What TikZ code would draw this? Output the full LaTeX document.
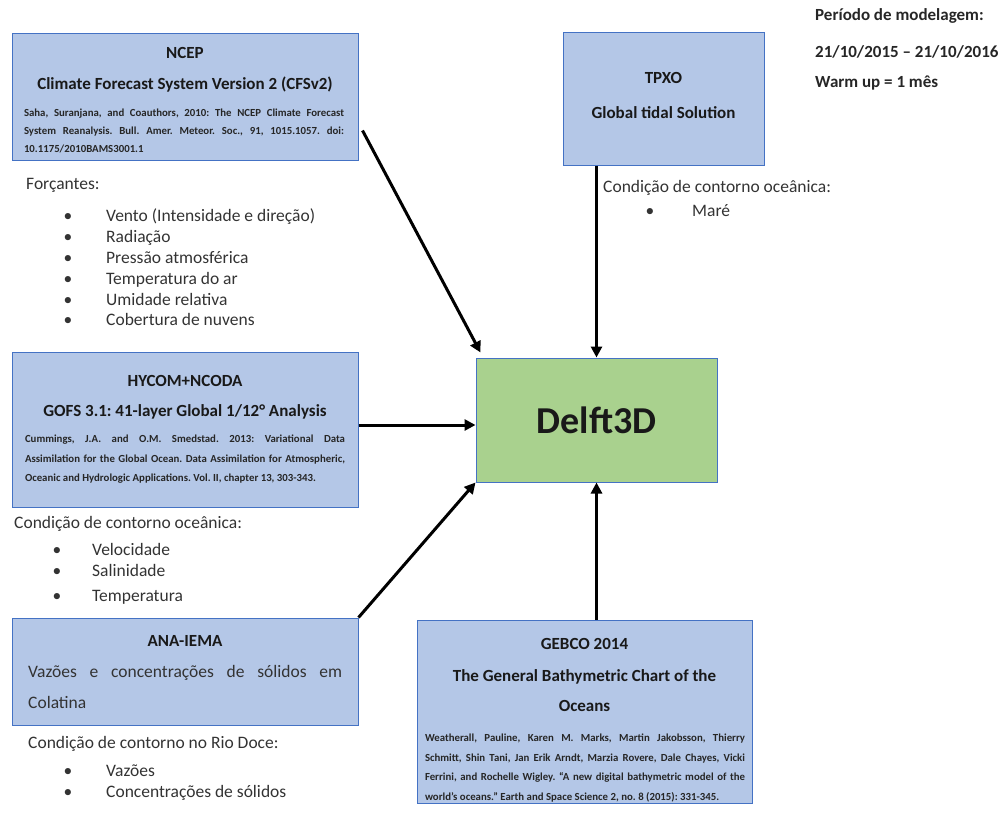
\documentclass[tikz,border=0pt]{standalone}
\usepackage{fontspec}
\setmainfont{Carlito}
\usetikzlibrary{arrows.meta,calc}
\definecolor{boxfill}{HTML}{B4C7E7}
\definecolor{boxedge}{HTML}{4472C4}
\definecolor{delfill}{HTML}{A9D18E}
\definecolor{txt}{HTML}{333333}
\frenchspacing
\tolerance=10000
\begin{document}
\begin{tikzpicture}[x=1pt,y=-1pt,
  box/.style={draw=boxedge, fill=boxfill, line width=1pt, inner sep=0pt},
  ttl/.style={font=\fontsize{17}{18}\selectfont\bfseries, text=black!90, inner sep=0pt, anchor=base},
  cite/.style={font=\fontsize{10.8}{#1}\selectfont\bfseries, text=black!85, inner sep=0pt, text width=320pt, align=justify, anchor=north},
  body/.style={font=\fontsize{17.5}{19}\selectfont, text=txt, inner sep=0pt, anchor=base west},
  bul/.style={font=\fontsize{17.5}{19}\selectfont, text=txt, inner sep=0pt, anchor=base},
  note/.style={font=\fontsize{17}{19}\selectfont\bfseries, text=black!85, inner sep=0pt, anchor=base west},
  arr/.style={-{Triangle[length=11pt,width=11pt]}, line width=3pt, black}]
\useasboundingbox (0,0) rectangle (1006,816);

% boxes
\node[box, minimum width=346pt, minimum height=126pt] (ncep) at (185,97) {};
\node[box, minimum width=201pt, minimum height=132pt] (tpxo) at (663.5,99) {};
\node[box, minimum width=346pt, minimum height=155pt] (hycom) at (185,429.5) {};
\node[box, minimum width=346pt, minimum height=107pt] (ana) at (185,671.5) {};
\node[box, minimum width=335pt, minimum height=183pt] (gebco) at (584.5,711.5) {};
\node[draw=boxedge, fill=delfill, line width=1pt, minimum width=241pt, minimum height=124pt, inner sep=0pt,
      font=\fontsize{38}{40}\selectfont\bfseries, text=black!90] (delft) at (596.5,420) {Delft3D};

% NCEP text
\node[ttl] (ncep1) at (185,59) {NCEP};
\node[ttl] (ncep2) at (185,89) {Climate Forecast System Version 2 (CFSv2)};
\node[cite=18] (ncep3) at (184,109) {Saha, Suranjana, and Coauthors, 2010: The NCEP Climate Forecast\linebreak System Reanalysis. Bull. Amer. Meteor. Soc., 91, 1015.1057. doi:\linebreak 10.1175/2010BAMS3001.1};

% TPXO text
\node[ttl] (tpxo1) at (663.5,84) {TPXO};
\node[ttl] (tpxo2) at (663.5,118) {Global tidal Solution};

% HYCOM text
\node[ttl] (hy1) at (185,386) {HYCOM+NCODA};
\node[ttl] (hy2) at (185,416) {GOFS 3.1: 41-layer Global 1/12° Analysis};
\node[cite=19.5] (hy3) at (185,435) {Cummings, J.A. and O.M. Smedstad. 2013: Variational Data\linebreak Assimilation for the Global Ocean. Data Assimilation for Atmospheric,\linebreak Oceanic and Hydrologic Applications. Vol. II, chapter 13, 303-343.};

% ANA text
\node[ttl] (ana1) at (185,646) {ANA-IEMA};
\node[body] (ana2) at (28,677) {\hbox to 314pt{Vazões\hfill e\hfill concentrações\hfill de\hfill sólidos\hfill em}};
\node[body] (ana3) at (28,708) {Colatina};

% GEBCO text
\node[ttl] (ge1) at (584.5,649) {GEBCO 2014};
\node[ttl] (ge2) at (584.5,681) {The General Bathymetric Chart of the};
\node[ttl] (ge3) at (584.5,711) {Oceans};
\node[cite=19.5] (ge4) at (585,734) {Weatherall, Pauline, Karen M. Marks, Martin Jakobsson, Thierry\linebreak Schmitt, Shin Tani, Jan Erik Arndt, Marzia Rovere, Dale Chayes, Vicki\linebreak Ferrini, and Rochelle Wigley. “A new digital bathymetric model of the\linebreak world's oceans.” Earth and Space Science 2, no. 8 (2015): 331-345.};

% top-right note
\node[note] (n1) at (815,21) {Período de modelagem:};
\node[note] (n2) at (815,57) {21/10/2015 – 21/10/2016};
\node[note] (n3) at (815,87) {Warm up = 1 mês};

% Forçantes
\node[body] (f0) at (26,189) {Forçantes:};
\foreach \t [count=\i] in {Vento (Intensidade e direção),Radiação,Pressão atmosférica,Temperatura do ar,Umidade relativa,Cobertura de nuvens}{
  \node[bul] (fb\i) at (68,201+20.8*\i) {•};
  \node[body] (ft\i) at (106,201+20.8*\i) {\t};
}

% TPXO list
\node[body] (t0) at (603,192) {Condição de contorno oceânica:};
\node[bul] (tb1) at (650,216) {•};
\node[body] (tt1) at (692,216) {Maré};

% HYCOM list
\node[body] (h0) at (14,528) {Condição de contorno oceânica:};
\node[bul] (hb1) at (57,555) {•};
\node[body] (ht1) at (92,555) {Velocidade};
\node[bul] (hb2) at (57,576) {•};
\node[body] (ht2) at (92,576) {Salinidade};
\node[bul] (hb3) at (57,601) {•};
\node[body] (ht3) at (92,601) {Temperatura};

% ANA list
\node[body] (a0) at (28,748) {Condição de contorno no Rio Doce:};
\node[bul] (ab1) at (68,776) {•};
\node[body] (at1) at (106,776) {Vazões};
\node[bul] (ab2) at (68,797) {•};
\node[body] (at2) at (106,797) {Concentrações de sólidos};

% arrows
\draw[arr] ([shift={(4,-30)}]ncep.south east) -- ([shift={(5,-5)}]delft.north west);
\draw[arr] (tpxo.south -| delft.north) -- (delft.north);
\draw[arr] ([yshift=4.5pt]hycom.east) -- ([yshift=4.5pt]hycom.east -| delft.west);
\draw[arr] (ana.north east) -- (delft.south west);
\draw[arr] (gebco.north -| delft.south) -- (delft.south);
\end{tikzpicture}
\end{document}
